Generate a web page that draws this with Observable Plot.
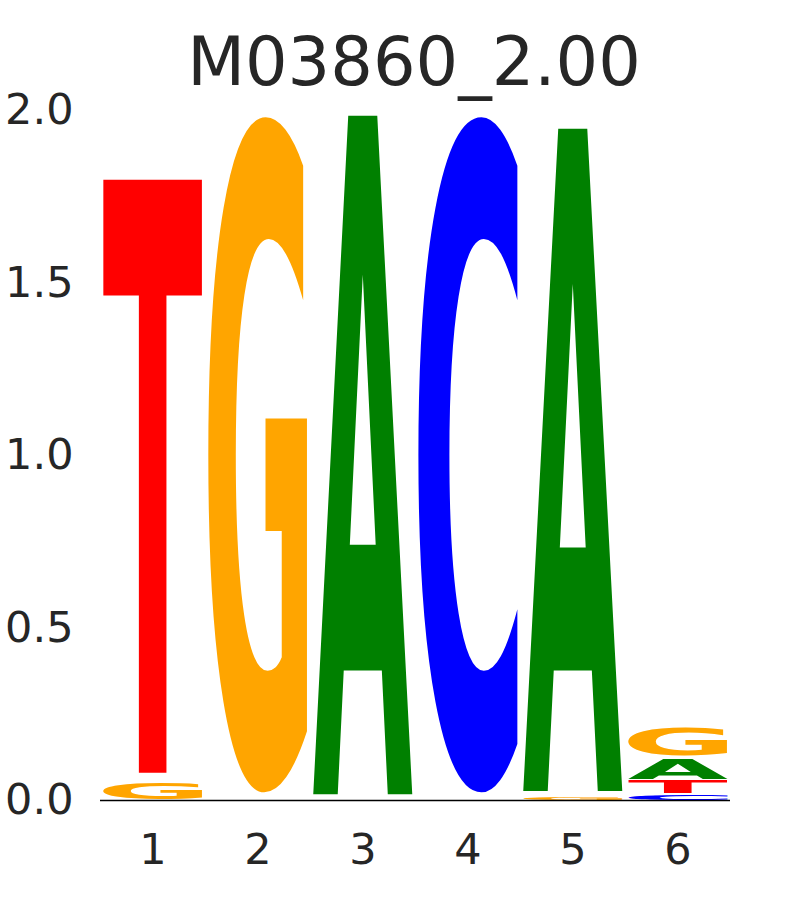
<!DOCTYPE html>
<html>
<head>
<meta charset="utf-8">
<script src="https://cdn.jsdelivr.net/npm/d3@7"></script>
<script src="https://cdn.jsdelivr.net/npm/@observablehq/plot@0.6"></script>
<style>
  html, body { margin: 0; padding: 0; background: #fff; }
  #title { height: 100px; width: 810px; text-align: center; font-family: "DejaVu Sans", sans-serif; font-size: 67px; line-height: 76px; padding-top: 24px; color: #262626; padding-left: 18px; box-sizing: border-box; }
  #chart svg { display: block; }
</style>
</head>
<body>
<div id="title">M03860_2.00</div>
<div id="chart"></div>
<script>
// Sequence logo data: each glyph = position, letter, floor, ceiling (bits)
const positions = [1, 1, 2, 3, 4, 5, 5, 6, 6, 6, 6];
const letters   = ["G", "T", "G", "A", "C", "G", "A", "C", "T", "A", "G"];
const floors    = [0.003, 0.067, 0.020, 0.017, 0.020, 0.000, 0.026, 0.000, 0.020, 0.061, 0.128];
const ceilings  = [0.049, 1.800, 1.986, 1.986, 1.986, 0.006, 1.948, 0.017, 0.058, 0.116, 0.212];
const xTicks = [1, 2, 3, 4, 5, 6];
const yTicks = [0, 0.5, 1.0, 1.5, 2.0];
const letterDomain = ["A", "C", "G", "T"];
const letterColors = ["#008000", "#0000ff", "#ffa500", "#ff0000"];
const glyphWidth = 0.95;

const glyphs = positions.map((p, i) => ({pos: p, letter: letters[i], y0: floors[i], y1: ceilings[i]}));

const FONT = "DejaVu Sans";
const FS = 200;
const canvas = document.createElement("canvas");
const ctx2d = canvas.getContext("2d");
ctx2d.font = `bold ${FS}px "${FONT}"`;
ctx2d.textAlign = "left";
ctx2d.textBaseline = "alphabetic";
const metrics = {};
for (const l of letterDomain) {
  const m = ctx2d.measureText(l);
  metrics[l] = {L: m.actualBoundingBoxLeft, R: m.actualBoundingBoxRight, A: m.actualBoundingBoxAscent, D: m.actualBoundingBoxDescent};
}

function glyphRender(index, scales, values) {
  const g = d3.create("svg:g").attr("aria-label", "logo glyphs").attr("text-anchor", "start");
  for (const i of index) {
    const d = glyphs[i];
    const xa = values.x1[i], xb = values.x2[i];
    const ya = values.y1[i], yb = values.y2[i];
    const left = Math.min(xa, xb), w = Math.abs(xb - xa);
    const top = Math.min(ya, yb), h = Math.abs(yb - ya);
    if (h <= 0 || w <= 0) continue;
    const m = metrics[d.letter];
    const sx = w / (m.L + m.R);
    const sy = h / (m.A + m.D);
    const tx = left + m.L * sx;
    const ty = top + m.A * sy;
    g.append("text")
      .attr("x", 0).attr("y", 0)
      .attr("text-anchor", "start")
      .attr("dominant-baseline", "alphabetic")
      .attr("font-family", FONT)
      .attr("font-weight", "bold")
      .attr("font-size", FS)
      .attr("fill", values.fill ? values.fill[i] : "black")
      .attr("transform", `translate(${tx},${ty}) scale(${sx},${sy})`)
      .text(d.letter);
  }
  return g.node();
}

const plot = Plot.plot({
  width: 810,
  height: 800,
  marginTop: 10,
  marginBottom: 100,
  marginLeft: 100,
  marginRight: 80,
  style: {fontSize: "43px", fontFamily: "DejaVu Sans, sans-serif", color: "#262626", background: "#fff", overflow: "visible"},
  x: {domain: [0.5, 6.5], label: null, axis: null},
  y: {domain: [0, 2], label: null, axis: null},
  color: {domain: letterDomain, range: letterColors},
  marks: [
    Plot.axisX(xTicks, {tickSize: 0, tickPadding: 33, label: null, tickFormat: d3.format("d"), fontSize: 43}),
    Plot.axisY(yTicks, {tickSize: 0, tickPadding: 27, label: null, tickFormat: d3.format(".1f"), fontSize: 43}),
    Plot.rect(glyphs, {
      x1: d => d.pos - glyphWidth / 2,
      x2: d => d.pos + glyphWidth / 2,
      y1: "y0", y2: "y1", fill: "letter", render: glyphRender
    }),
    Plot.ruleY([0], {stroke: "#000", strokeWidth: 1.5})
  ]
});
document.getElementById("chart").append(plot);
</script>
</body>
</html>
